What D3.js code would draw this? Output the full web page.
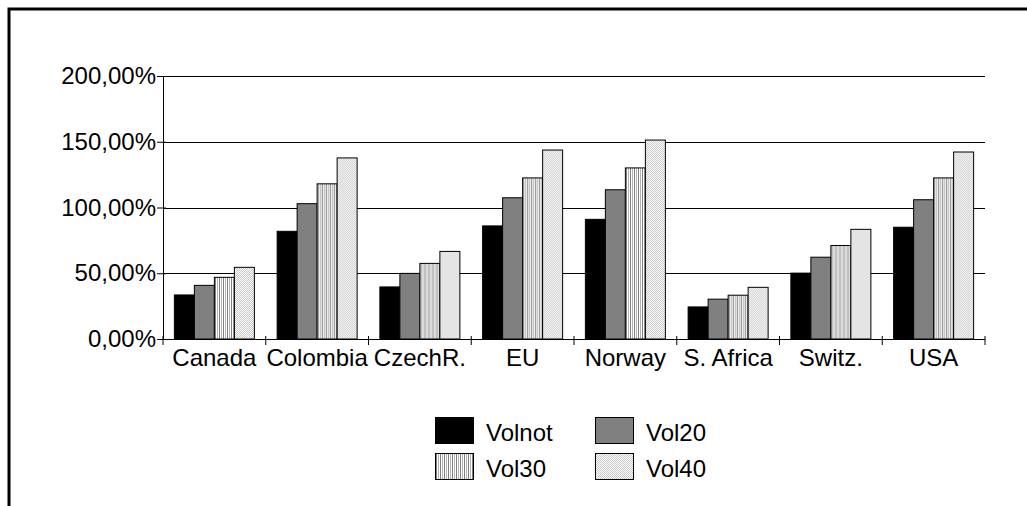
<!DOCTYPE html>
<html>
<head>
<meta charset="utf-8">
<script src="https://cdn.jsdelivr.net/npm/d3@7"></script>
<style>
  body { margin: 0; background: #fff; }
  svg { display: block; font-family: "Liberation Sans", Arial, sans-serif; }
</style>
</head>
<body>
<svg></svg>
<script>
// Data
const categories = ["Canada", "Colombia", "CzechR.", "EU", "Norway", "S. Africa", "Switz.", "USA"];
const seriesNames = ["Volnot", "Vol20", "Vol30", "Vol40"];
const volnot = [33.5, 81.9, 39.6, 86.0, 91.0, 24.4, 50.1, 85.0];
const vol20 = [40.8, 102.9, 49.9, 107.4, 113.5, 30.3, 62.2, 105.9];
const vol30 = [46.9, 118.0, 57.5, 122.5, 130.1, 33.3, 71.1, 122.5];
const vol40 = [54.5, 137.7, 66.6, 143.7, 151.3, 39.3, 83.4, 142.2];
const yTicks = [0, 50, 100, 150, 200];

const seriesValues = [volnot, vol20, vol30, vol40];
const data = categories.map((c, i) => ({
  cat: c,
  values: seriesNames.map((s, j) => ({ key: s, value: seriesValues[j][i] }))
}));

// Sizes
const W = 1027, H = 506;
const margin = { l: 163, r: 42, t: 76, b: 167 };
const width = W - margin.l - margin.r;
const height = H - margin.t - margin.b;

const svg = d3.select("svg").attr("width", W).attr("height", H);

// Patterns
const defs = svg.append("defs");
const stripes = defs.append("pattern")
  .attr("id", "stripes").attr("patternUnits", "userSpaceOnUse")
  .attr("width", 4).attr("height", 4);
stripes.append("rect").attr("width", 4).attr("height", 4).attr("fill", "#fff");
stripes.append("rect").attr("x", 0).attr("width", 1).attr("height", 4).attr("fill", "#808080");
stripes.append("rect").attr("x", 2).attr("width", 1).attr("height", 4).attr("fill", "#b4b4b4");

const dots = defs.append("pattern")
  .attr("id", "dots").attr("patternUnits", "userSpaceOnUse")
  .attr("width", 2).attr("height", 2);
dots.append("rect").attr("width", 2).attr("height", 2).attr("fill", "#fff");
dots.append("rect").attr("width", 1).attr("height", 1).attr("fill", "#c8c8c8");
dots.append("rect").attr("x", 1).attr("y", 1).attr("width", 1).attr("height", 1).attr("fill", "#c8c8c8");

const fills = { Volnot: "#000", Vol20: "#808080", Vol30: "url(#stripes)", Vol40: "url(#dots)" };

// Outer frame (runs off the right and bottom edge)
svg.append("rect")
  .attr("x", 9).attr("y", 9)
  .attr("width", W + 20).attr("height", H + 20)
  .attr("fill", "none").attr("stroke", "#000").attr("stroke-width", 3);

const g = svg.append("g").attr("transform", `translate(${margin.l}, ${margin.t})`);

// Scales
const x0 = d3.scaleBand().domain(categories).range([0, width]).padding(0);
const groupPad = (x0.bandwidth() - 80) / 2;
const x1 = d3.scaleBand().domain(seriesNames).range([groupPad, x0.bandwidth() - groupPad]).padding(0);
const y = d3.scaleLinear().domain([0, 200]).range([height, 0]);

// Gridlines
g.append("g")
  .selectAll("line")
  .data(yTicks.slice(1))
  .enter()
  .append("line")
    .attr("x1", 0).attr("x2", width)
    .attr("y1", d => Math.round(y(d)) + 0.5)
    .attr("y2", d => Math.round(y(d)) + 0.5)
    .attr("stroke", "#000");

// Bars
g.selectAll(".grp")
  .data(data)
  .enter()
  .append("g")
    .attr("transform", d => `translate(${x0(d.cat)}, 0)`)
  .selectAll("rect")
  .data(d => d.values)
  .enter()
  .append("rect")
    .attr("x", d => x1(d.key))
    .attr("y", d => y(d.value))
    .attr("width", x1.bandwidth())
    .attr("height", d => height - y(d.value))
    .attr("fill", d => fills[d.key])
    .attr("stroke", "#000")
    .attr("stroke-width", 1);

// Y axis
const yAxis = g.append("g")
  .call(d3.axisLeft(y).tickValues(yTicks).tickSizeInner(6).tickSizeOuter(0)
    .tickFormat(d => d3.format(".2f")(d).replace(".", ",") + "%"));
yAxis.select(".domain").attr("stroke", "#000");
yAxis.selectAll("text")
  .attr("font-size", 24).attr("fill", "#000").attr("x", -7)
  .attr("font-family", "'Liberation Sans', Arial, sans-serif");
yAxis.selectAll(".tick line").attr("x1", 3).attr("x2", -6);

// X axis
const xAxisG = g.append("g").attr("transform", `translate(0, ${height})`);
xAxisG.append("line")
  .attr("x1", 0).attr("x2", width).attr("y1", 0.5).attr("y2", 0.5)
  .attr("stroke", "#000");
xAxisG.selectAll(".xt")
  .data(categories.concat([null]))
  .enter()
  .append("line")
    .attr("x1", (d, i) => i * x0.step()).attr("x2", (d, i) => i * x0.step())
    .attr("y1", -3).attr("y2", 6)
    .attr("stroke", "#000");
xAxisG.selectAll(".xl")
  .data(categories)
  .enter()
  .append("text")
    .attr("x", d => x0(d) + x0.bandwidth() / 2)
    .attr("y", 27)
    .attr("text-anchor", "middle")
    .attr("font-size", 24)
    .text(d => d);

// Legend
const legendPos = [[435, 417], [595, 417], [435, 453], [595, 453]];
const legend = svg.append("g");
seriesNames.forEach((s, i) => {
  const [lx, ly] = legendPos[i];
  legend.append("rect")
    .attr("x", lx + 0.5).attr("y", ly + 0.5)
    .attr("width", 38).attr("height", 26)
    .attr("fill", fills[s]).attr("stroke", "#000");
  legend.append("text")
    .attr("x", lx + 51).attr("y", ly + 24)
    .attr("font-size", 24)
    .text(s);
});
</script>
</body>
</html>
